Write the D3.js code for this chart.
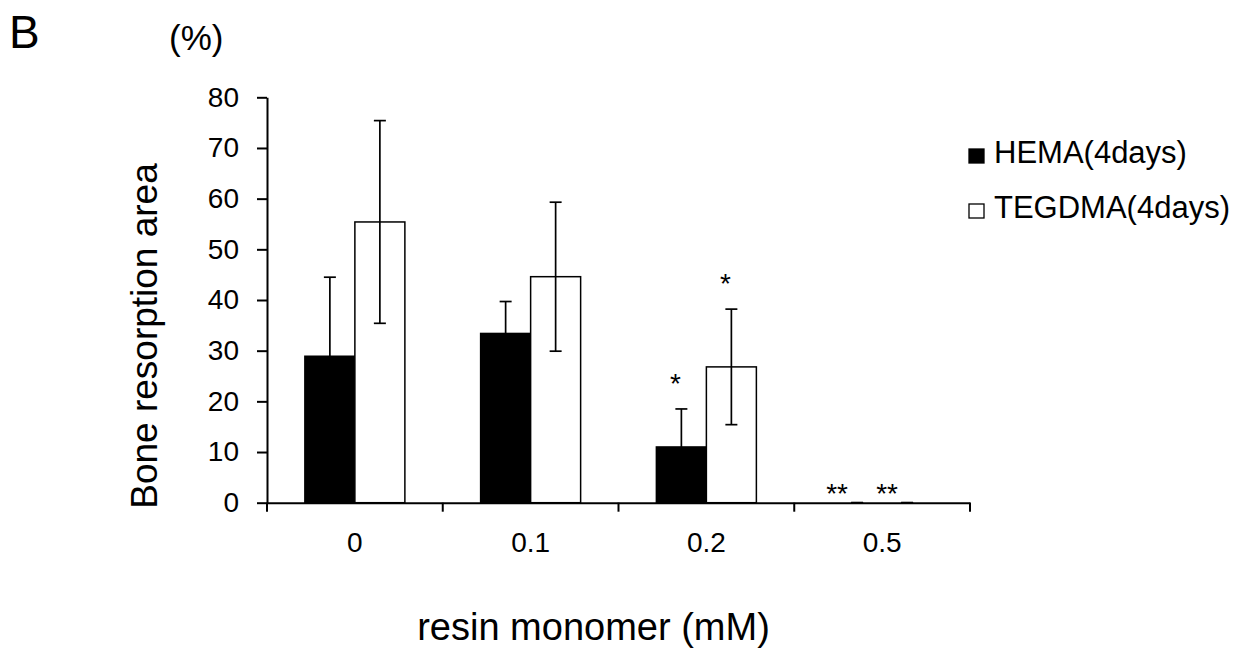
<!DOCTYPE html>
<html>
<head>
<meta charset="utf-8">
<script src="https://cdn.jsdelivr.net/npm/d3@7"></script>
<style>
  body { margin: 0; background: #fff; }
  svg { font-family: "Liberation Sans", Arial, sans-serif; }
</style>
</head>
<body>
<svg width="1239" height="663"></svg>
<script>
// data
const categories = ["0", "0.1", "0.2", "0.5"];
const series = ["HEMA(4days)", "TEGDMA(4days)"];
const hemaMean = [28.9, 33.4, 11.0, 0];
const hemaErr = [15.6, 6.3, 7.5, 0];
const tegdmaMean = [55.4, 44.6, 26.8, 0];
const tegdmaErr = [20.0, 14.7, 11.4, 0];
const marks = [["", ""], ["", ""], ["*", "*"], ["**", "**"]];
const yTicks = [0, 10, 20, 30, 40, 50, 60, 70, 80];

const svg = d3.select("svg");
const plotLeft = 267, plotRight = 970, plotTop = 97.3, plotBottom = 502.7;

const x = d3.scaleBand(categories, [plotLeft, plotRight]);
const sub = d3.scaleBand(series, [0, 100]);
const y = d3.scaleLinear([0, 80], [plotBottom, plotTop]);

const rows = categories.map((c, i) => [
  { cat: c, s: series[0], v: hemaMean[i], e: hemaErr[i], m: marks[i][0], fill: "#000" },
  { cat: c, s: series[1], v: tegdmaMean[i], e: tegdmaErr[i], m: marks[i][1], fill: "#fff" }
]).flat();

const bx = d => x(d.cat) + x.bandwidth() / 2 - 50 + sub(d.s);

// bars
svg.append("g").selectAll("rect")
  .data(rows)
  .enter().append("rect")
    .attr("x", bx)
    .attr("y", d => y(d.v))
    .attr("width", sub.bandwidth())
    .attr("height", d => y(0) - y(d.v))
    .attr("fill", d => d.fill)
    .attr("stroke", "#000")
    .attr("stroke-width", 1.5);

// error bars
const eb = svg.append("g").attr("stroke", "#000").attr("stroke-width", 1.7);
rows.forEach(d => {
  const cx = bx(d) + sub.bandwidth() / 2;
  if (d.e > 0) {
    eb.append("line").attr("x1", cx).attr("x2", cx).attr("y1", y(d.v - d.e)).attr("y2", y(d.v + d.e));
  }
  eb.append("line").attr("x1", cx - 6).attr("x2", cx + 6).attr("y1", y(d.v + d.e)).attr("y2", y(d.v + d.e));
  eb.append("line").attr("x1", cx - 6).attr("x2", cx + 6).attr("y1", y(d.v - d.e)).attr("y2", y(d.v - d.e));
});

// significance marks
svg.append("g").selectAll("text")
  .data(rows.filter(d => d.m))
  .enter().append("text")
    .attr("x", d => bx(d) + sub.bandwidth() / 2)
    .attr("dx", d => d.m.length > 1 ? -20 : -6)
    .attr("y", d => d.e > 0 ? y(d.v + d.e) - 16 : y(0))
    .attr("text-anchor", "middle")
    .attr("font-size", 28)
    .text(d => d.m);

// axes
const xAxis = svg.append("g")
  .attr("transform", `translate(0,${plotBottom})`)
  .call(d3.axisBottom(x).tickSize(0).tickFormat(""));
xAxis.select(".domain").attr("stroke-width", 2);
svg.append("g").attr("stroke", "#000").attr("stroke-width", 2)
  .selectAll("line")
  .data(d3.range(categories.length + 1))
  .enter().append("line")
    .attr("x1", i => plotLeft + i * x.step())
    .attr("x2", i => plotLeft + i * x.step())
    .attr("y1", plotBottom).attr("y2", plotBottom + 9);
svg.append("g").selectAll("text")
  .data(categories)
  .enter().append("text")
    .attr("x", d => x(d) + x.bandwidth() / 2)
    .attr("y", 552)
    .attr("text-anchor", "middle")
    .attr("font-size", 28)
    .text(d => d);

const yAxis = svg.append("g")
  .attr("transform", `translate(${plotLeft},0)`)
  .call(d3.axisLeft(y).tickValues(yTicks).tickSize(10).tickPadding(18).tickSizeOuter(0));
yAxis.select(".domain").attr("stroke-width", 2);
yAxis.selectAll(".tick line").attr("stroke-width", 2);
yAxis.selectAll(".tick text").attr("font-size", 28).attr("fill", "#000")
  .attr("font-family", "Liberation Sans, Arial, sans-serif");

// titles
svg.append("text")
  .attr("transform", "rotate(-90)")
  .attr("x", -336)
  .attr("y", 157)
  .attr("text-anchor", "middle")
  .attr("font-size", 37)
  .text("Bone resorption area");
svg.append("text")
  .attr("x", (plotLeft + plotRight) / 2 - 25)
  .attr("y", 640)
  .attr("text-anchor", "middle")
  .attr("font-size", 38)
  .text("resin monomer (mM)");
svg.append("text").attr("x", 9).attr("y", 48).attr("font-size", 46).text("B");
svg.append("text").attr("x", 169).attr("y", 50).attr("font-size", 35).text("(%)");

// legend
const legend = svg.append("g").selectAll("g")
  .data(series)
  .enter().append("g")
    .attr("transform", (d, i) => `translate(969,${149 + i * 55})`);
legend.append("rect")
  .attr("width", 15).attr("height", 14)
  .attr("fill", (d, i) => i === 0 ? "#000" : "#fff")
  .attr("stroke", "#000").attr("stroke-width", 1.3);
legend.append("text")
  .attr("x", 25).attr("y", 14)
  .attr("font-size", 31)
  .text(d => d);
</script>
</body>
</html>
